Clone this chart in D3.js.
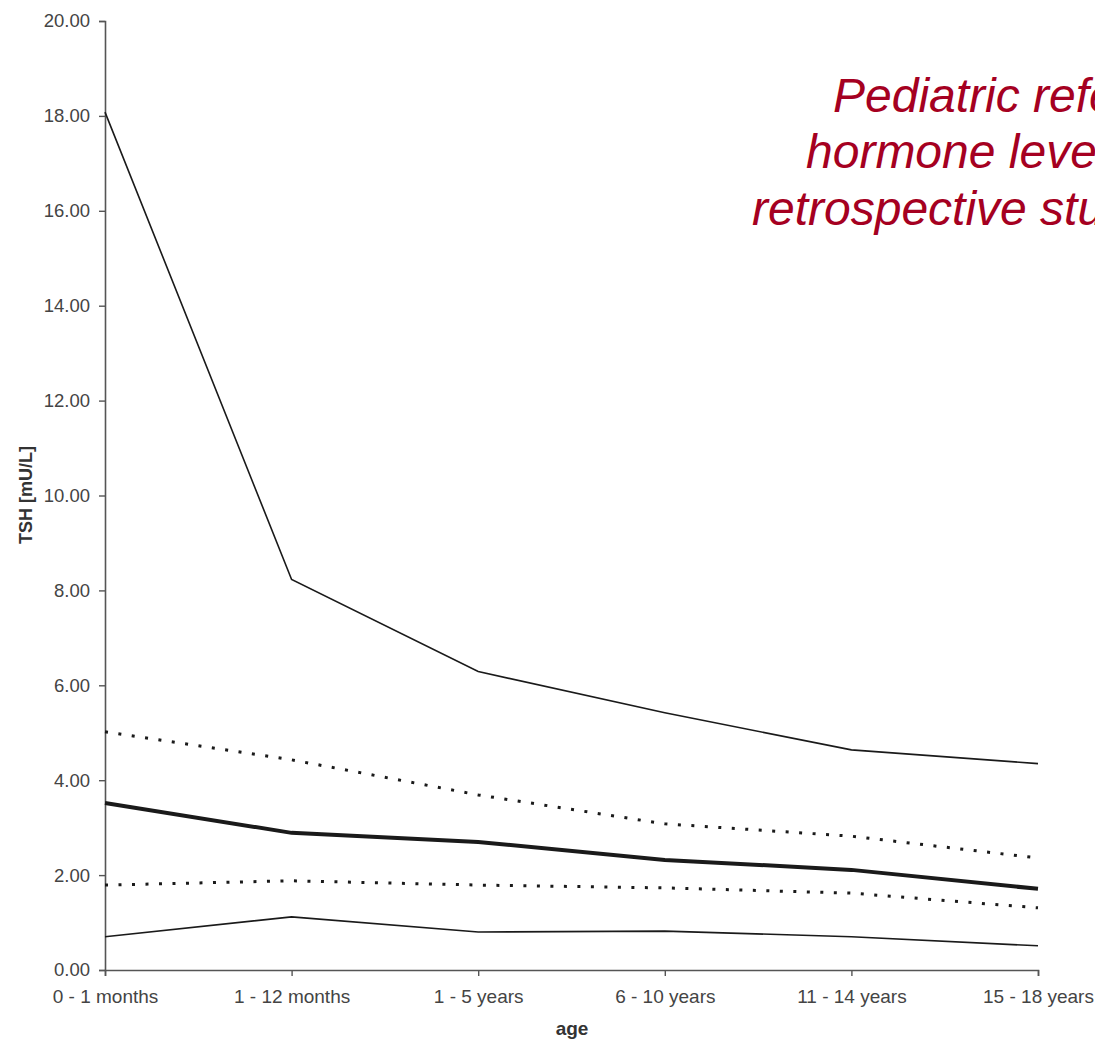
<!DOCTYPE html>
<html>
  <head>
    <title>TSH by age</title>
    <script src="https://cdn.jsdelivr.net/npm/d3@7"></script>
    <style>
      body { margin: 0; background: #fff; overflow: hidden; }
    </style>
  </head>
  <body>
    <svg width="1095" height="1042" id="mainsvg"></svg>
    <script>
        // age groups and TSH percentile curves (mU/L)
        const ageGroups = ['0 - 1 months', '1 - 12 months', '1 - 5 years', '6 - 10 years', '11 - 14 years', '15 - 18 years'];
        const upperSolid = [18.08, 8.23, 6.29, 5.42, 4.64, 4.35];
        const upperDotted = [5.02, 4.43, 3.69, 3.08, 2.82, 2.36];
        const median = [3.52, 2.89, 2.70, 2.32, 2.11, 1.71];
        const lowerDotted = [1.79, 1.88, 1.79, 1.73, 1.62, 1.31];
        const lowerSolid = [0.70, 1.12, 0.80, 0.82, 0.70, 0.51];
        const yTicks = [0, 2, 4, 6, 8, 10, 12, 14, 16, 18, 20];
        const titleLines = ['Pediatric reference', 'hormone levels', 'retrospective study'];

        const svg = d3.select('#mainsvg');
        const margin = {top: 21, left: 105};
        const innerWidth = 933;
        const innerHeight = 949;

        const g = svg.append('g')
          .attr('transform', `translate(${margin.left}, ${margin.top})`);

        const xScale = d3.scalePoint().domain(ageGroups).range([0, innerWidth]);
        const yScale = d3.scaleLinear().domain([0, 20]).range([innerHeight, 0]);

        // axes
        const yAxis = d3.axisLeft(yScale).tickValues(yTicks).tickSize(6).tickPadding(9)
          .tickFormat(d3.format('.2f'));
        const xAxis = d3.axisBottom(xScale).tickSize(6).tickPadding(14);

        const yg = g.append('g').call(yAxis);
        const xg = g.append('g').attr('transform', `translate(0, ${innerHeight})`).call(xAxis);
        [yg, xg].forEach(a => {
          a.select('.domain').attr('stroke', '#555').attr('stroke-width', 1.6);
          a.selectAll('.tick line').attr('stroke', '#555').attr('stroke-width', 1.4);
          a.selectAll('.tick text')
            .attr('font-family', 'Liberation Sans, Arial, sans-serif')
            .attr('fill', '#444');
        });
        yg.selectAll('.tick text').attr('font-size', '18.5px');
        xg.selectAll('.tick text').attr('font-size', '19px');

        // series
        const series = [
          {values: upperSolid, width: 1.6, dash: null},
          {values: upperDotted, width: 3, dash: '3,10.5'},
          {values: median, width: 4, dash: null},
          {values: lowerDotted, width: 3, dash: '3,10.5'},
          {values: lowerSolid, width: 1.6, dash: null}
        ];
        const line = d3.line()
          .x((d, i) => xScale(ageGroups[i]))
          .y(d => yScale(d));

        series.forEach(s => {
          g.append('path')
            .datum(s.values)
            .attr('d', line)
            .attr('fill', 'none')
            .attr('stroke', '#1a1a1a')
            .attr('stroke-width', s.width)
            .attr('stroke-dasharray', s.dash);
        });

        // axis titles
        svg.append('text').text('TSH [mU/L]')
          .attr('transform', 'translate(32, 495) rotate(-90)')
          .attr('text-anchor', 'middle')
          .attr('font-family', 'Liberation Sans, Arial, sans-serif')
          .attr('font-size', '18px').attr('font-weight', 'bold').attr('fill', '#333');

        svg.append('text').text('age')
          .attr('x', 572).attr('y', 1035)
          .attr('text-anchor', 'middle')
          .attr('font-family', 'Liberation Sans, Arial, sans-serif')
          .attr('font-size', '19px').attr('font-weight', 'bold').attr('fill', '#333');

        // red italic title, runs off the right edge
        const titleX = [833, 806, 752];
        const titleY = [112, 168, 225];
        titleLines.forEach((t, i) => {
          svg.append('text').text(t)
            .attr('x', titleX[i]).attr('y', titleY[i])
            .attr('font-family', 'Liberation Sans, Arial, sans-serif')
            .attr('font-size', '48px').attr('font-style', 'italic')
            .attr('fill', '#a50021');
        });
    </script>
  </body>
</html>
